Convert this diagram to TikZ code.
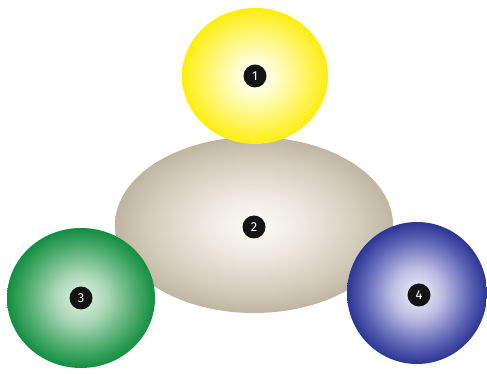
\documentclass[tikz,border=0pt]{standalone}
\usepackage{fontspec}
\newfontfamily\badgefont{Fira Sans}
\pgfdeclareradialshading{shY}{\pgfpoint{0bp}{0bp}}{rgb(0bp)=(1,1,0.98); rgb(7bp)=(1,0.99,0.80); rgb(17bp)=(1,0.96,0.40); rgb(25bp)=(1,0.93,0.06); rgb(50bp)=(1,0.93,0.06)}
\pgfdeclareradialshading{shB}{\pgfpoint{0bp}{0bp}}{rgb(0bp)=(0.99,0.99,0.98); rgb(9bp)=(0.93,0.91,0.88); rgb(19bp)=(0.83,0.80,0.73); rgb(25bp)=(0.75,0.71,0.63); rgb(50bp)=(0.75,0.71,0.63)}
\pgfdeclareradialshading{shG}{\pgfpoint{0bp}{0bp}}{rgb(0bp)=(0.90,0.95,0.91); rgb(9bp)=(0.66,0.84,0.71); rgb(19bp)=(0.28,0.66,0.41); rgb(25bp)=(0.07,0.56,0.25); rgb(50bp)=(0.07,0.56,0.25)}
\pgfdeclareradialshading{shL}{\pgfpoint{0bp}{0bp}}{rgb(0bp)=(0.95,0.95,0.98); rgb(9bp)=(0.74,0.74,0.89); rgb(19bp)=(0.36,0.39,0.71); rgb(25bp)=(0.17,0.21,0.58); rgb(50bp)=(0.17,0.21,0.58)}
\tikzset{
  badge/.style={circle, fill=black!92, text=white, minimum size=23pt, inner sep=0pt,
    font=\badgefont\fontsize{13}{13}\selectfont},
}
\begin{document}
\begin{tikzpicture}[x=1pt,y=1pt]
\useasboundingbox (0,0) rectangle (487,374);
% ellipse 2 (behind)
\shade[shading=shB] (254,149) ellipse [x radius=139, y radius=88];
% yellow 1
\shade[shading=shY] (255,298) ellipse [x radius=73, y radius=68];
% green 3
\shade[shading=shG] (81,76) ellipse [x radius=74, y radius=70];
% blue 4
\shade[shading=shL] (417,81) ellipse [x radius=70, y radius=71];
\node[badge] (b1) at (255,298) {1};
\node[badge] (b2) at (254,147) {2};
\node[badge] (b3) at (81,76) {3};
\node[badge] (b4) at (419,79) {4};
\end{tikzpicture}
\end{document}
